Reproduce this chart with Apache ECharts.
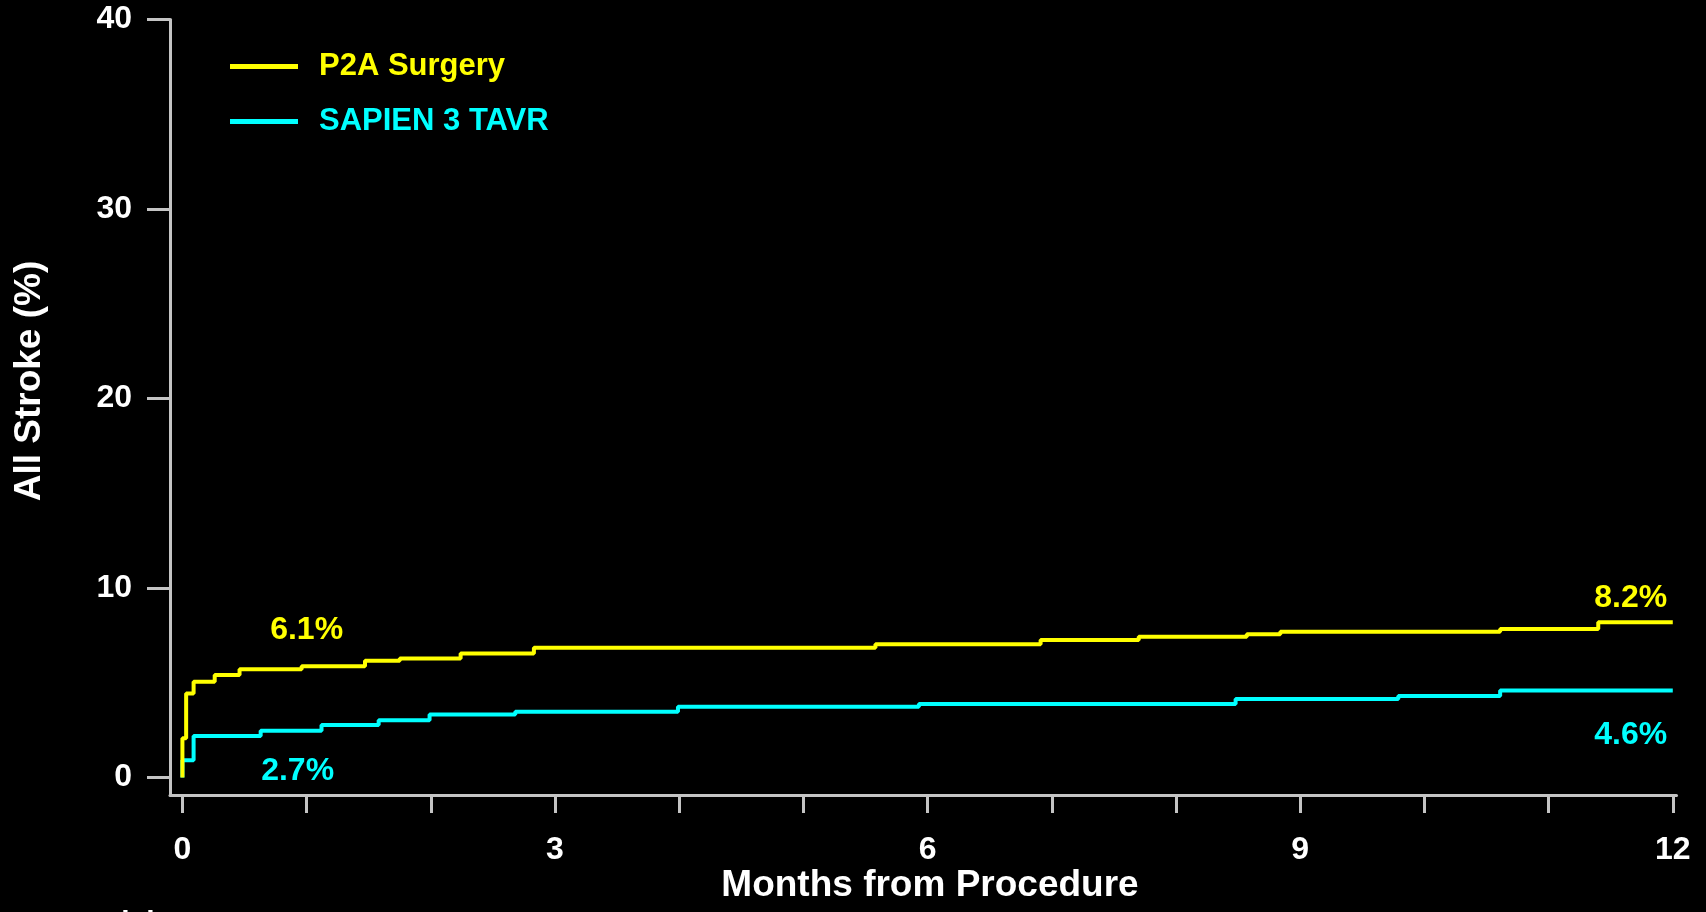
<!DOCTYPE html>
<html>
<head>
<meta charset="utf-8">
<title>All Stroke</title>
<script src="https://cdn.jsdelivr.net/npm/echarts@6/dist/echarts.min.js"></script>
<style>
  html, body { margin: 0; padding: 0; background: #000; }
  #chart { width: 1706px; height: 912px; }
</style>
</head>
<body>
<div id="chart"></div>
<script>
// Kaplan-Meier style cumulative incidence, months from procedure
const seriesNames = ['P2A Surgery', 'SAPIEN 3 TAVR'];

// Each entry: month at which the curve steps, and the level (%) after the step
const surgeryMonths = [0, 0, 0.03, 0.09, 0.26, 0.46, 0.96, 1.47, 1.75, 2.24, 2.83, 5.58, 6.91, 7.70, 8.57, 8.84, 10.61, 11.40, 12];
const surgeryPct    = [0, 2.07, 4.44, 5.06, 5.41, 5.71, 5.88, 6.16, 6.29, 6.55, 6.85, 7.03, 7.26, 7.43, 7.56, 7.69, 7.84, 8.2, 8.2];

const tavrMonths = [0, 0, 0.09, 0.63, 1.12, 1.58, 1.99, 2.68, 3.99, 5.93, 8.48, 9.79, 10.61, 12];
const tavrPct    = [0, 0.92, 2.19, 2.47, 2.77, 3.03, 3.33, 3.47, 3.74, 3.88, 4.15, 4.30, 4.6, 4.6];

// Landmark estimates at 30 days and 1 year
const landmarkMonths   = [1, 12];
const surgeryLandmarks = [6.1, 8.2];
const tavrLandmarks    = [2.7, 4.6];

// Axis ticks and labels
const xTickMonths  = [0, 1, 2, 3, 4, 5, 6, 7, 8, 9, 10, 11, 12];
const xLabelMonths = [0, 3, 6, 9, 12];
const yTickValues  = [0, 10, 20, 30, 40];

const xAxisTitle = 'Months from Procedure';
const yAxisTitle = 'All Stroke (%)';
const riskTableTitle = 'No. at Risk';

const YELLOW = '#FFFF00';
const CYAN = '#00FFFF';
const AXIS = '#C4C4C4';
const FONT = '"Liberation Sans", Arial, sans-serif';

const pairs = (xs, ys) => xs.map((x, i) => [x, ys[i]]);

// Label offsets (px) relative to each landmark point
const surgeryLabelOffsets = [[0, -32], [-42, -24]];
const tavrLabelOffsets    = [[-9, 45], [-42, 45]];

function landmarkPoints(values, offsets, color) {
  return values.map((v, i) => ({
    coord: [landmarkMonths[i], v],
    value: v,
    symbol: 'circle',
    symbolSize: 0,
    label: {
      show: true,
      position: 'inside',
      offset: offsets[i],
      formatter: (p) => p.value.toFixed(1) + '%',
      color: color,
      fontFamily: FONT,
      fontWeight: 'bold',
      fontSize: 32
    }
  }));
}

const chart = echarts.init(document.getElementById('chart'), null, { renderer: 'canvas' });

chart.setOption({
  backgroundColor: '#000',
  animation: false,
  grid: {
    left: 170,
    right: 29.5,
    top: 19.6,
    bottom: 117,
    containLabel: false,
    outerBoundsMode: 'none'
  },
  legend: {
    orient: 'vertical',
    left: 225,
    top: 46,
    itemWidth: 68,
    itemHeight: 5,
    itemGap: 24,
    icon: 'rect',
    textStyle: {
      fontFamily: FONT,
      fontWeight: 'bold',
      fontSize: 31,
      lineHeight: 31,
      padding: [0, 0, 0, 16]
    },
    data: [
      { name: seriesNames[0], textStyle: { color: YELLOW } },
      { name: seriesNames[1], textStyle: { color: CYAN } }
    ]
  },
  xAxis: {
    type: 'value',
    min: -0.1,
    max: 12.03,
    axisLine: { show: true, onZero: false, lineStyle: { color: AXIS, width: 3 } },
    axisTick: { show: true, length: 18, customValues: xTickMonths, lineStyle: { color: AXIS, width: 3 } },
    axisLabel: {
      customValues: xLabelMonths,
      color: '#fff',
      fontFamily: FONT,
      fontWeight: 'bold',
      fontSize: 32,
      margin: 39
    },
    splitLine: { show: false }
  },
  yAxis: {
    type: 'value',
    min: -0.92,
    max: 40,
    axisLine: { show: true, onZero: false, lineStyle: { color: AXIS, width: 3 } },
    axisTick: { show: true, length: 23, customValues: yTickValues, lineStyle: { color: AXIS, width: 3 } },
    axisLabel: {
      customValues: yTickValues,
      color: '#fff',
      fontFamily: FONT,
      fontWeight: 'bold',
      fontSize: 32,
      margin: 38
    },
    splitLine: { show: false }
  },
  series: [
    {
      name: seriesNames[0],
      type: 'line',
      step: 'end',
      showSymbol: false,
      color: YELLOW,
      lineStyle: { color: YELLOW, width: 4 },
      data: pairs(surgeryMonths, surgeryPct),
      markPoint: { silent: true, data: landmarkPoints(surgeryLandmarks, surgeryLabelOffsets, YELLOW) },
      z: 3
    },
    {
      name: seriesNames[1],
      type: 'line',
      step: 'end',
      showSymbol: false,
      color: CYAN,
      lineStyle: { color: CYAN, width: 4 },
      data: pairs(tavrMonths, tavrPct),
      markPoint: { silent: true, data: landmarkPoints(tavrLandmarks, tavrLabelOffsets, CYAN) },
      z: 2
    }
  ],
  graphic: [
    {
      type: 'text',
      x: 30,
      y: 381,
      rotation: Math.PI / 2,
      style: {
        text: yAxisTitle,
        fill: '#fff',
        font: 'bold 37px ' + FONT,
        align: 'center',
        verticalAlign: 'middle'
      }
    },
    {
      type: 'text',
      x: 930,
      y: 886,
      style: {
        text: xAxisTitle,
        fill: '#fff',
        font: 'bold 37px ' + FONT,
        align: 'center',
        verticalAlign: 'middle'
      }
    },
    {
      type: 'text',
      x: 8,
      y: 909,
      style: {
        text: riskTableTitle,
        fill: '#fff',
        font: 'bold 30px ' + FONT,
        align: 'left',
        verticalAlign: 'top'
      }
    }
  ]
});
</script>
</body>
</html>
